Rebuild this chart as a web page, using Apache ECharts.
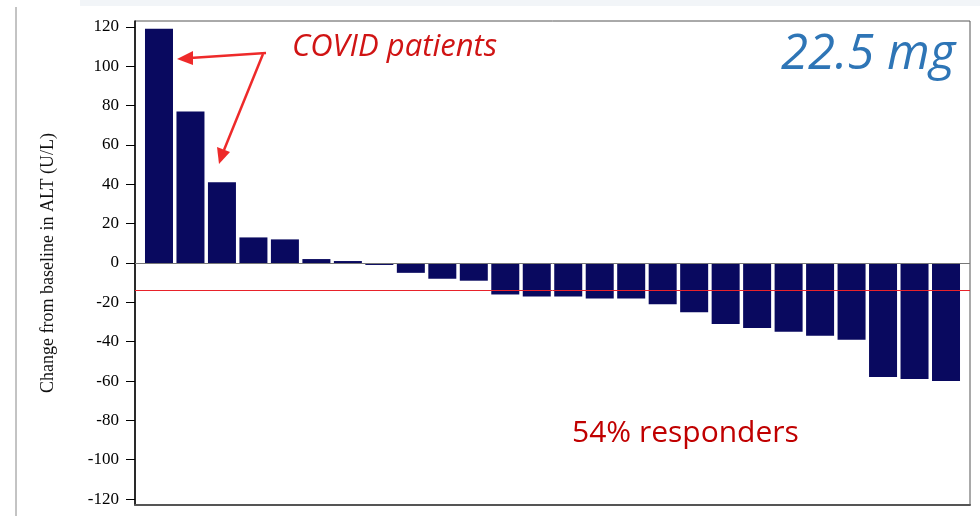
<!DOCTYPE html>
<html>
<head>
<meta charset="utf-8">
<script src="https://cdn.jsdelivr.net/npm/echarts@6/dist/echarts.min.js"></script>
<style>
  html, body { margin: 0; padding: 0; background: #fff; }
  #chart { width: 980px; height: 516px; }
</style>
</head>
<body>
<div id="chart"></div>
<script>
// change from baseline in ALT (U/L), one bar per patient, sorted
var patients = [];
var altChange = [119, 77, 41, 13, 12, 2, 1, -1, -5, -8, -9, -16, -17, -17, -18, -18,
                 -21, -25, -31, -33, -35, -37, -39, -58, -59, -60];
var yTicks = [-120, -100, -80, -60, -40, -20, 0, 20, 40, 60, 80, 100, 120];
var responderCut = -14;

for (var i = 0; i < altChange.length; i++) {
    patients.push(i);
}

var barData = patients.map(function (p, i) {
    return [p, altChange[i]];
});

var chart = echarts.init(document.getElementById('chart'));

var option = {
    animation: false,
    grid: {
        left: 135,
        right: 10,
        top: 21,
        bottom: 11,
        show: true,
        borderColor: '#555',
        borderWidth: 1
    },
    xAxis: {
        type: 'value',
        min: -0.762,
        max: patients.length - 1 + 0.762,
        axisLine: { show: true, onZero: false, lineStyle: { color: '#555', width: 2 } },
        axisTick: { show: false },
        axisLabel: { show: false },
        splitLine: { show: false }
    },
    yAxis: {
        type: 'value',
        min: -123,
        max: 123,
        name: 'Change from baseline in ALT (U/L)',
        nameLocation: 'middle',
        nameGap: 78,
        nameTextStyle: {
            fontFamily: 'Liberation Serif',
            fontSize: 18,
            color: '#111'
        },
        axisLine: { show: true, onZero: false, lineStyle: { color: '#000', width: 1.5 } },
        axisTick: {
            show: true,
            length: 9,
            customValues: yTicks,
            lineStyle: { color: '#000', width: 1 }
        },
        axisLabel: {
            customValues: yTicks,
            fontFamily: 'Liberation Serif',
            fontSize: 17,
            color: '#000',
            margin: 16
        },
        splitLine: { show: false }
    },
    series: [{
        type: 'bar',
        data: barData,
        barWidth: 28,
        itemStyle: { color: '#09095f' },
        markLine: {
            silent: true,
            symbol: 'none',
            label: { show: false },
            data: [
                { yAxis: 0, lineStyle: { color: '#777', width: 1, type: 'solid' } },
                { yAxis: responderCut, lineStyle: { color: '#e8222a', width: 1, type: 'solid' } }
            ]
        }
    }],
    graphic: [
        { type: 'rect', shape: { x: 80, y: 0, width: 900, height: 6 }, style: { fill: '#f2f5f8' }, z: -1 },
        { type: 'line', shape: { x1: 16, y1: 7, x2: 16, y2: 516 }, style: { stroke: '#888', lineWidth: 1 } },
        {
            type: 'text', left: 292, top: 32,
            style: { text: 'COVID patients', fill: '#d01414', font: 'italic 31px "Open Sans"' }
        },
        {
            type: 'text', left: 781, top: 31,
            style: { text: '22.5 mg', fill: '#2e75b6', font: 'italic 49px "Open Sans"' }
        },
        {
            type: 'text', left: 572, top: 418,
            style: { text: '54% responders', fill: '#c00000', font: '30px "Open Sans"' }
        },
        // arrows toward the two COVID patients
        { type: 'line', shape: { x1: 266, y1: 53, x2: 190, y2: 58 }, style: { stroke: '#ee2a2a', lineWidth: 2.5 } },
        { type: 'polygon', shape: { points: [[177, 59], [193, 51], [193, 65]] }, style: { fill: '#ee2a2a' } },
        { type: 'line', shape: { x1: 263, y1: 54, x2: 224, y2: 150 }, style: { stroke: '#ee2a2a', lineWidth: 2.5 } },
        { type: 'polygon', shape: { points: [[219, 164], [217, 147], [230, 152]] }, style: { fill: '#ee2a2a' } }
    ]
};

chart.setOption(option);
</script>
</body>
</html>
